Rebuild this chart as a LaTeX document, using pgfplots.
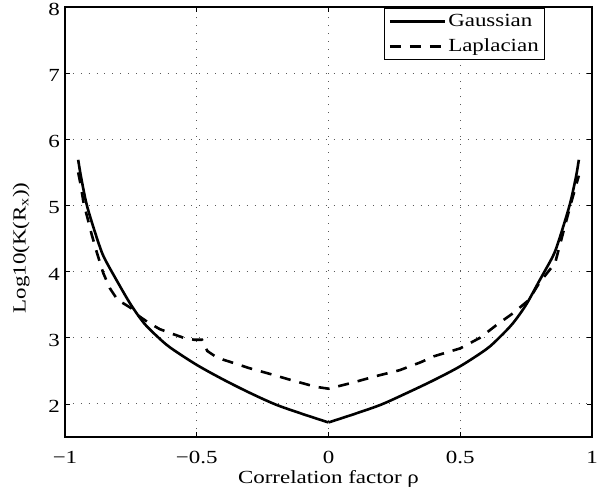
\documentclass[border=0pt]{standalone}
\usepackage{fontspec}
\setmainfont{Liberation Serif}[FakeStretch=1.24]
\usepackage{pgfplots}
\pgfplotsset{compat=1.18}

\begin{document}
\fontsize{18.5bp}{22bp}\selectfont
\begin{tikzpicture}
\useasboundingbox (-65bp,-54bp) rectangle (532bp,437bp);
\begin{axis}[
    at={(0,0)}, anchor=south west,
    scale only axis,
    width=527bp, height=430bp,
    xmin=-1, xmax=1, ymin=1.5, ymax=8,
    xtick={-1,-0.5,0,0.5,1},
    xticklabels={−1,−0.5,0,0.5,1},
    ytick={2,3,4,5,6,7,8},
    yticklabels={2,3,4,5,6,7,8},
    tick align=inside,
    major tick length=5bp,
    axis line style={line width=1.1bp},
    tick style={line width=0.6bp, black},
    grid=major,
    grid style={line width=0.9bp, black!65, dash pattern=on 0.9bp off 7bp},
    xticklabel style={anchor=base, yshift=-26bp},
    yticklabel style={anchor=east, inner sep=0pt, xshift=-5bp, yshift=-2.5bp},
    xlabel={Correlation factor ρ},
    ylabel={Log10(K(R\textsubscript{x}))},
    every axis x label/.style={at={(rel axis cs:0.5,-0.107)}, anchor=base},
    every axis y label/.style={at={(rel axis cs:-0.083,0.44)}, anchor=center, rotate=90},
    legend style={at={(rel axis cs:0.911,0.998)}, anchor=north east,
        draw=black, line width=0.8bp, inner sep=4bp, row sep=5bp,
        nodes={inner sep=2bp}, fill=white},
    legend cell align=left,
    legend image code/.code={\draw[#1, line width=3bp] (0bp,0bp) -- (55bp,0bp);},
]

% Gaussian, left half
\addplot[black, line width=2.6bp, smooth, tension=0.5] coordinates {
    (-0.95,5.69) (-0.94,5.45) (-0.92,5.05) (-0.90,4.77) (-0.87,4.40)
    (-0.85,4.20) (-0.80,3.84) (-0.75,3.50) (-0.70,3.22) (-0.65,3.02)
    (-0.60,2.85) (-0.50,2.59) (-0.40,2.37) (-0.30,2.17) (-0.20,1.99)
    (-0.10,1.85) (0,1.72)
};
\addlegendentry{Gaussian}

% Laplacian
\addplot[black, line width=2.6bp, dash pattern=on 11bp off 9bp] coordinates {
    (-0.95,5.5) (-0.94,5.3) (-0.93,5.05) (-0.90,4.58) (-0.88,4.3)
    (-0.855,3.98) (-0.83,3.75) (-0.80,3.57) (-0.77,3.5) (-0.75,3.45)
    (-0.72,3.33) (-0.68,3.22) (-0.64,3.13) (-0.60,3.07) (-0.55,3.0)
    (-0.51,2.97) (-0.48,2.97) (-0.46,2.80) (-0.43,2.72) (-0.40,2.67)
    (-0.30,2.54) (-0.21,2.44) (-0.15,2.37) (-0.05,2.26) (0,2.23)
    (0.09,2.32) (0.18,2.42) (0.27,2.51) (0.35,2.63) (0.40,2.72)
    (0.50,2.84) (0.575,3.0) (0.64,3.2) (0.70,3.37) (0.76,3.57)
    (0.80,3.83) (0.86,4.13) (0.89,4.58) (0.92,5.03) (0.95,5.45)
};
\addlegendentry{Laplacian}

% Gaussian, right half
\addplot[black, line width=2.6bp, smooth, tension=0.5, forget plot] coordinates {
    (0,1.72) (0.10,1.85) (0.20,1.99) (0.30,2.17) (0.40,2.36)
    (0.50,2.57) (0.60,2.83) (0.65,3.01) (0.70,3.22) (0.75,3.50)
    (0.80,3.86) (0.85,4.22) (0.87,4.42) (0.90,4.80) (0.92,5.08)
    (0.94,5.45) (0.95,5.69)
};

\end{axis}
\end{tikzpicture}
\end{document}
